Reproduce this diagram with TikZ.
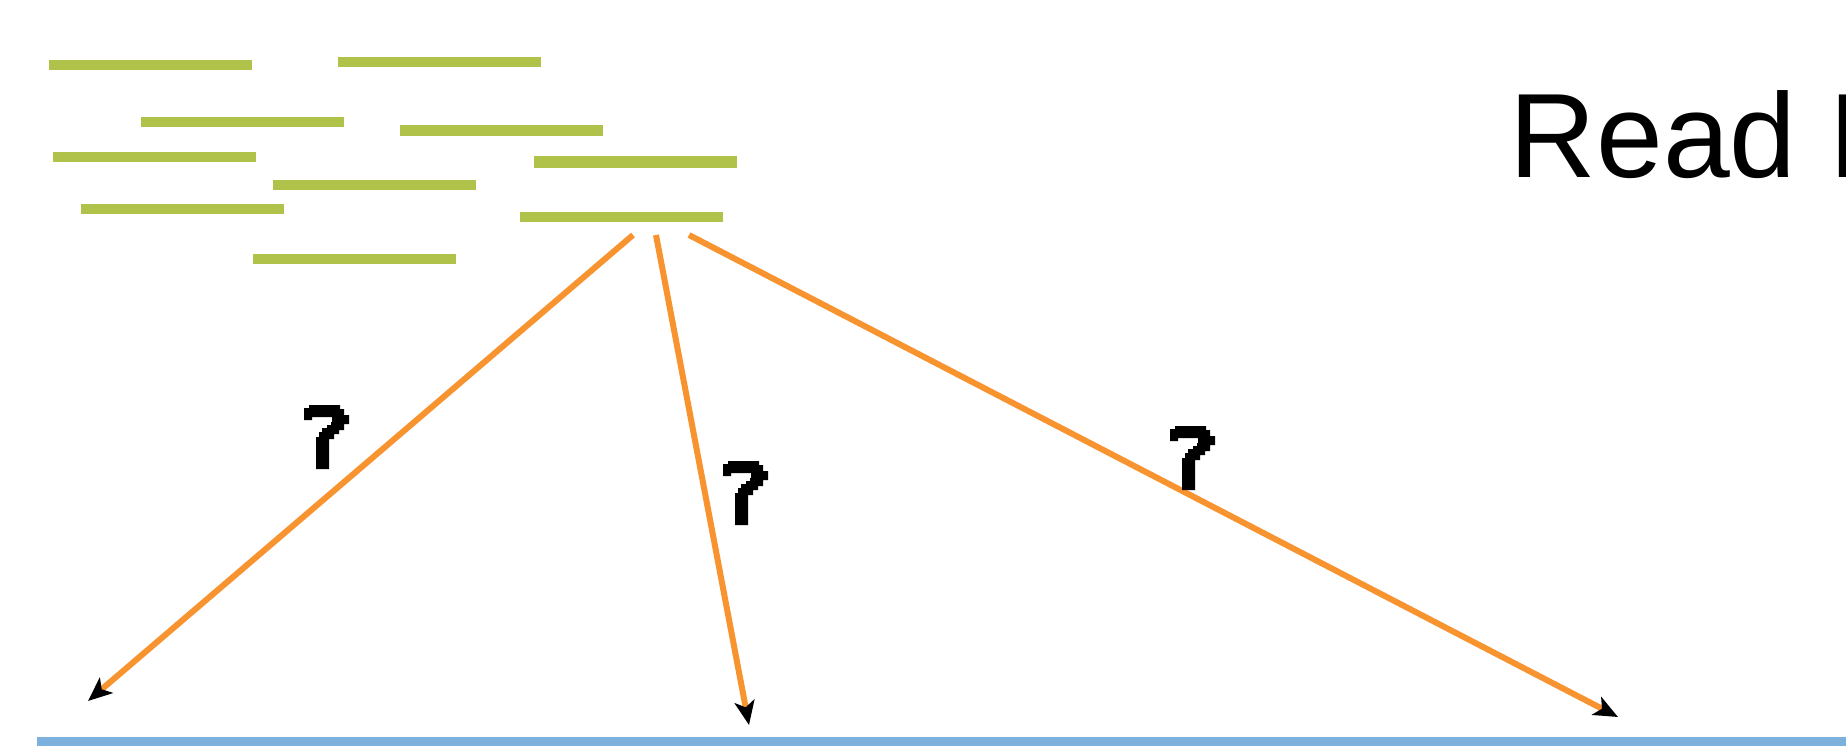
\documentclass[tikz,border=0pt]{standalone}
\usepackage{fontspec}
\setmainfont{Liberation Sans}
\usetikzlibrary{arrows.meta}
\definecolor{readgreen}{RGB}{176,194,74}
\definecolor{maporange}{RGB}{248,148,48}
\definecolor{refblue}{RGB}{123,177,220}
\tikzset{
  readbar/.style={fill=readgreen, draw=none, inner sep=0pt, minimum width=203pt, minimum height=10pt, anchor=north west},
  mapedge/.style={draw=maporange, line width=6pt, -{Stealth[length=24pt,width=20pt,inset=6pt,black]}},
  qmark/.pic={
    \fill[black] (24,18) -- (29,18) -- (29,15) -- (60,15) -- (60,19) -- (64,19) -- (64,25)
      -- (69,25) -- (69,34) -- (64,34) -- (64,40) -- (59,40) -- (59,44) -- (54,44) -- (54,49)
      -- (49,49) -- (49,79) -- (36,79) -- (36,47) -- (39,47) -- (39,42) -- (42,42) -- (42,38)
      -- (47,38) -- (47,35) -- (51,35) -- (51,32) -- (52,32) -- (52,27) -- (32,27) -- (32,30)
      -- (24,30) -- cycle;
  }
}
\begin{document}
\begin{tikzpicture}[x=1pt,y=-1pt]
  \useasboundingbox (0,0) rectangle (1846,746);
  \clip (0,0) rectangle (1846,746);

  % short reads
  \node[readbar] (r1) at (49,60) {};
  \node[readbar] (r2) at (338,57) {};
  \node[readbar] (r3) at (141,117) {};
  \node[readbar, minimum height=11pt] (r4) at (400,125) {};
  \node[readbar] (r5) at (53,152) {};
  \node[readbar, minimum height=12pt] (r6) at (534,156) {};
  \node[readbar] (r7) at (273,180) {};
  \node[readbar] (r8) at (81,204) {};
  \node[readbar] (r9) at (520,212) {};
  \node[readbar] (r10) at (253,254) {};

  % title
  \node[anchor=base west, inner sep=0pt, font=\fontsize{120}{130}\selectfont] (title) at (1509.5,178) {Read Mapping};

  % reference sequence
  \fill[refblue] (37,737) rectangle (1846,747);

  % candidate mapping positions
  \coordinate (s1) at (633,235);
  \coordinate (s2) at (656,235);
  \coordinate (s3) at (689,235);
  \coordinate (t1) at (88,701);
  \coordinate (t2) at (749,725);
  \coordinate (t3) at (1618,717);
  \draw[mapedge] (s1) -- (t1);
  \draw[mapedge] (s2) -- (t2);
  \draw[mapedge] (s3) -- (t3);

  % uncertainty marks
  \pic at (280,390) {qmark};
  \pic at (699,446) {qmark};
  \pic at (1146,411) {qmark};
\end{tikzpicture}
\end{document}
